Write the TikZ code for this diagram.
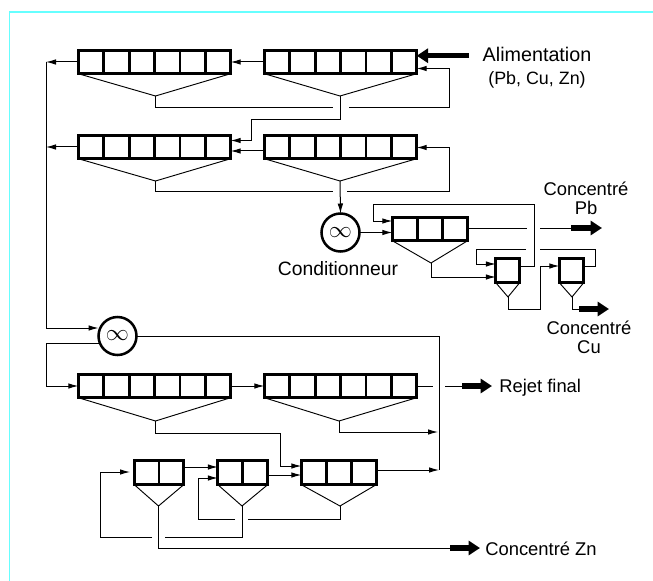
\documentclass[tikz,border=0pt]{standalone}
\usepackage{fontspec}
\setmainfont{Liberation Sans}
\usetikzlibrary{arrows.meta,calc}
\definecolor{framecyan}{RGB}{102,255,255}
\tikzset{
  bankbox/.style={draw=black,line width=2.1pt,rectangle,inner sep=0pt,outer sep=0pt},
  mixer/.style={draw=black,line width=1.9pt,circle,inner sep=0pt,outer sep=0pt,minimum size=28.5pt,font=\fontsize{16}{16}\selectfont},
  funnel/.style={draw=black,line width=0.7pt},
  pipe/.style={draw=black,line width=0.75pt},
  flow/.style={pipe,-{Latex[length=7.5pt,width=4.2pt]}},
  bigflow/.style={draw=black,line width=4.2pt,-{Triangle[length=8.5pt,width=10.5pt]}},
  lab/.style={inner sep=0pt,align=center,font=\fontsize{13.8}{14.4}\selectfont},
  frameline/.style={draw=framecyan,line width=1.2pt}
}
\newcommand{\bank}[8]{%
  \node[bankbox,minimum width={(#4-#2-2.6)*0.75pt},minimum height={(#5-#3-2.6)*0.75pt}] (#1) at ({(#2+#4)/2},{(#3+#5)/2}) {};
  \pgfmathtruncatemacro{\lastcell}{#6-1}%
  \ifnum#6>1
  \foreach \i in {1,...,\lastcell}{
    \draw[bankbox] ($(#1.north west)!{\i/#6}!(#1.north east)$) -- ($(#1.south west)!{\i/#6}!(#1.south east)$);
  }
  \fi
  \coordinate (#1apex) at (#7,#8);
  \draw[funnel] (#1.south west) -- (#1apex) -- (#1.south east);
}
\begin{document}
\begin{tikzpicture}[x=0.75pt,y=-0.75pt]
\useasboundingbox (0,0) rectangle (653,581);
\draw[frameline] (9.5,581) -- (9.5,12) -- (653,12);

% banks
\bank{ra}{77}{49}{232}{75}{6}{155.5}{96}
\bank{rb}{263}{49}{418}{75}{6}{340}{96}
\bank{sa}{77}{134}{232}{160}{6}{155.5}{181}
\bank{sb}{263}{134}{418}{160}{6}{340}{181}
\bank{ta}{77}{373}{232}{399}{6}{155.5}{421}
\bank{tb}{263}{373}{418}{399}{6}{339}{421}
\bank{ua}{133}{459}{185}{486}{2}{158.5}{506}
\bank{ub}{216.5}{459}{269}{486}{2}{242}{506}
\bank{uc}{300}{459}{377.5}{486}{3}{340}{506}
\bank{pa}{391}{216}{469}{242}{3}{431}{263}
\bank{pb}{494.5}{257}{521}{284}{1}{508}{297}
\bank{pc}{558}{257}{585}{284}{1}{572}{297}

% mixers
\node[mixer] (cond) at (340.5,232.5) {$\infty$};
\node[mixer] (mixz) at (117.5,336) {$\infty$};

% labels
\node[lab,font=\fontsize{14.8}{15}\selectfont] (feedlab) at (537,68) {Alimentation\\[2.2pt]{\fontsize{13.4}{15}\selectfont (Pb, Cu, Zn)}};
\node[lab,font=\fontsize{14.5}{15}\selectfont] (condlab) at (338,269) {Conditionneur};
\node[lab] (pblab) at (586,198.5) {Concentré\\Pb};
\node[lab] (culab) at (589,337) {Concentré\\Cu};
\node[lab,anchor=west] (rejlab) at (499,388) {Rejet final};
\node[lab,anchor=west] (znlab) at (485,549) {Concentré Zn};

% free ends and way-points
\coordinate (collect) at (46,62);
\coordinate (feedstart) at (469,55.7);
\coordinate (g1) at (333,108);
\coordinate (g2) at (349,108);
\coordinate (g3) at (333,192);
\coordinate (g4) at (347,192);
\coordinate (rejg1) at (433,386);
\coordinate (rejg2) at (445,386);
\coordinate (rejg3) at (462,386);
\coordinate (pbg1) at (527,228);
\coordinate (pbg2) at (540,228);
\coordinate (pbg3) at (571,228);
\coordinate (cug1) at (579,309);
\coordinate (zng1) at (450,548);
\coordinate (tails) at (439,336);

% top circuit
\draw[bigflow] (feedstart) -- (rb.east |- feedstart);
\draw[flow] (rb.west) -- (ra.east);
\draw[flow] (ra.west) -- (collect);
\draw[pipe] (raapex) |- (g1);
\draw[flow] (g2) -| (449,68.5) -- (rb.east |- 0,68.5);
\draw[flow] (rbapex) |- (251,120) |- (sa.east |- 0,140.5);
\draw[flow] (sb.west |- 0,151) -- (sa.east |- 0,151);
\draw[flow] (sa.west) -- (collect |- sa.west);
\draw[pipe] (saapex) |- (g3);
\draw[flow] (g4) -| (449,147.5) -- (sb.east |- 0,147.5);
\draw[flow] (sbapex) -- (cond.north);

% lead circuit
\draw[flow] (cond.east) -- (pa.west |- cond.east);
\draw[flow] (pb.east |- 0,266) -| (534,204) -| (373,221) -- (pa.west |- 0,221);
\draw[pipe] (pa.east |- pbg1) -- (pbg1);
\draw[pipe] (pbg2) -- (pbg3);
\draw[bigflow] (pbg3) -- (602,228);
\draw[flow] (paapex) |- (pb.west |- 0,277);
\draw[flow] (pbapex) |- (540,309) |- (pc.west |- 0,266);
\draw[pipe] (pc.east |- 0,266) -| (595,249) -- (pbg2 |- 0,249);
\draw[flow] (526,249) -| (476,264) -- (pb.west |- 0,264);
\draw[pipe] (pcapex) |- (cug1);
\draw[bigflow] (cug1) -- (609,309);

% collector to zinc conditioner
\draw[pipe] (collect) -- (46,328);
\draw[flow] (46,328) -- (mixz.west |- 0,328);
\draw[flow] (mixz.west |- 0,343) -| (46,386) -- (ta.west |- 0,386);
\draw[pipe] (mixz.east) -- (tails) -- (439,470);

% zinc roughers
\draw[flow] (ta.east |- 0,386) -- (tb.west |- 0,386);
\draw[pipe] (tb.east |- rejg1) -- (rejg1);
\draw[pipe] (rejg2) -- (rejg3);
\draw[bigflow] (rejg3) -- (492,386);
\draw[flow] (taapex) |- (280,433) |- (uc.west |- 0,466);
\draw[flow] (tbapex) |- (438,432);

% zinc cleaners
\draw[flow] (uc.east |- 0,470) -- (439,470);
\draw[flow] (ua.east |- 0,467) -- (ub.west |- 0,467);
\draw[flow] (ub.east |- 0,475) -- (uc.west |- 0,475);
\draw[pipe] (ucapex) |- (248,519);
\draw[flow] (235,519) -| (198,478) -- (ub.west |- 0,478);
\draw[pipe] (ubapex) |- (165,537);
\draw[flow] (152,537) -| (100,472) -- (130,472);
\draw[pipe] (uaapex) |- (zng1);
\draw[bigflow] (zng1) -- (480,548);
\end{tikzpicture}
\end{document}
